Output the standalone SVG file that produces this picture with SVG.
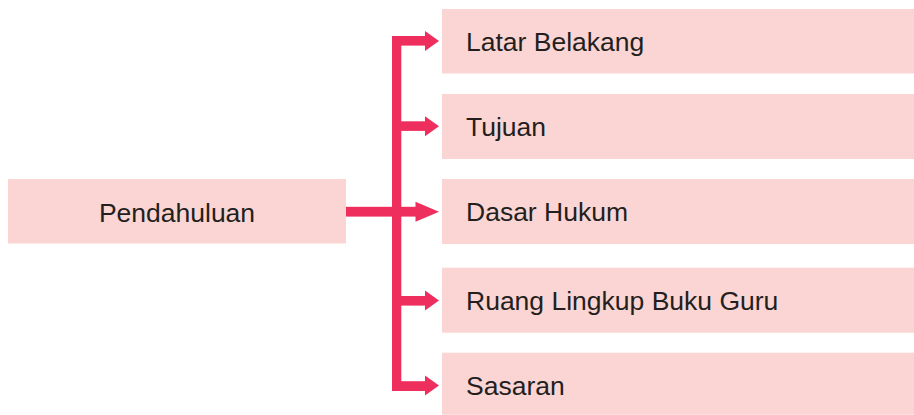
<svg xmlns="http://www.w3.org/2000/svg" width="914" height="415" viewBox="0 0 914 415">
<style>
.box{fill:#fbd5d3;}
.lbl{font-family:"Liberation Sans",Arial,sans-serif;font-size:26.5px;fill:#231f20;}
.ln{fill:#ee2f5d;}
</style>
<rect width="914" height="415" fill="#ffffff"/>
<g id="connectors">
<rect class="ln" x="392" y="36" width="9.3" height="355"/>
<rect class="ln" x="346" y="206.8" width="70" height="9.8"/>
<polygon class="ln" points="415.5,201.7 439,211.7 415.5,221.7"/>
<rect class="ln" x="392" y="36" width="34" height="9.6"/>
<polygon class="ln" points="425,31 439,41 425,51"/>
<rect class="ln" x="392" y="121.3" width="34" height="9.6"/>
<polygon class="ln" points="425,116.2 439,126.2 425,136.2"/>
<rect class="ln" x="392" y="296" width="34" height="9.6"/>
<polygon class="ln" points="425,290.5 439,300.5 425,310.5"/>
<rect class="ln" x="392" y="381.2" width="34" height="9.8"/>
<polygon class="ln" points="425,375.5 439,385.5 425,395.5"/>
</g>
<g id="pendahuluan">
<rect class="box" x="8" y="179" width="338" height="64.5"/>
<text class="lbl" x="177" y="221.5" text-anchor="middle">Pendahuluan</text>
</g>
<g id="latar-belakang">
<rect class="box" x="442" y="9" width="472" height="64.5"/>
<text class="lbl" x="466" y="50.8">Latar Belakang</text>
</g>
<g id="tujuan">
<rect class="box" x="442" y="94" width="472" height="65"/>
<text class="lbl" x="466" y="136">Tujuan</text>
</g>
<g id="dasar-hukum">
<rect class="box" x="442" y="179" width="472" height="65"/>
<text class="lbl" x="466" y="221.2">Dasar Hukum</text>
</g>
<g id="ruang-lingkup">
<rect class="box" x="442" y="267.7" width="472" height="65"/>
<text class="lbl" x="466" y="309.5">Ruang Lingkup Buku Guru</text>
</g>
<g id="sasaran">
<rect class="box" x="442" y="352.7" width="472" height="62"/>
<text class="lbl" x="466" y="394.8">Sasaran</text>
</g>
</svg>
